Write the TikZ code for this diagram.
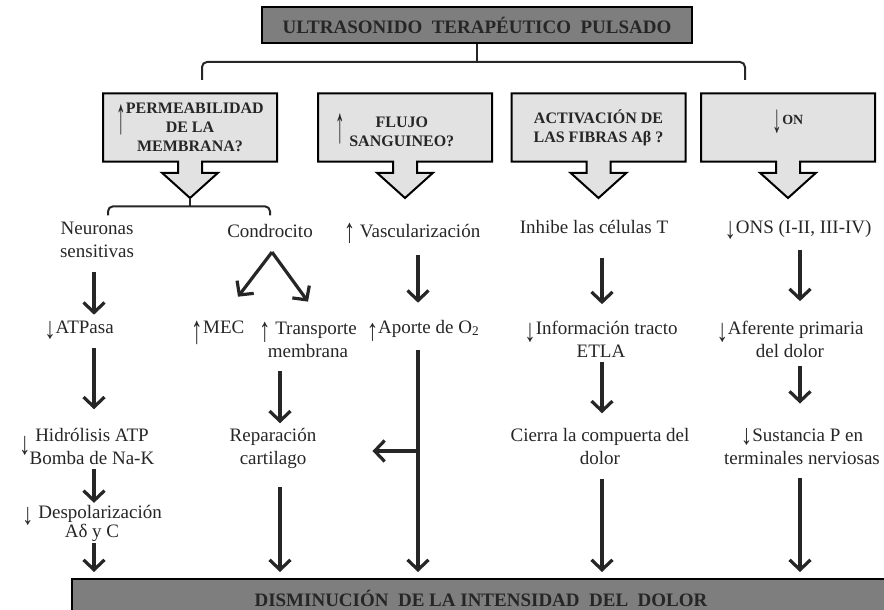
\documentclass[tikz,border=0pt]{standalone}
\usepackage{fontspec}
\setmainfont{Liberation Serif}
\usepackage{xcolor}
\definecolor{boxgray}{RGB}{226,226,226}
\definecolor{bargray}{RGB}{126,126,126}
\definecolor{ink}{RGB}{38,38,38}
\usepackage{tikz}
\usetikzlibrary{shapes.arrows}
\usetikzlibrary{positioning}
\usetikzlibrary{arrows.meta}

% small arrows set inside the texts: [raise]{vertical stretch}
\newcommand{\uparr}[2][0pt]{\raisebox{#1}[0pt][0pt]{\scalebox{1.2}[#2]{\normalfont↑}}}
\newcommand{\dnarr}[2][0pt]{\raisebox{#1}[0pt][0pt]{\scalebox{1.2}[#2]{\normalfont↓}}}

\tikzset{
  txt/.style={align=center,inner sep=0pt,text=ink,font=\fontsize{19}{23}\selectfont,
    execute at begin node=\strut,execute at end node=\strut},
  tight/.style={font=\fontsize{19}{19}\selectfont},
  bar/.style={draw=black,line width=2.5pt,fill=bargray,text=ink,
    font=\bfseries\fontsize{19}{23}\selectfont},
  callout/.style={arrow box,draw=black,line width=2pt,fill=boxgray,text=ink,
    minimum width=174pt,minimum height=68pt,inner sep=2pt,align=center,
    font=\bfseries\fontsize{16}{19}\selectfont,
    arrow box arrows={south:35.5pt},arrow box shaft width=24pt,
    arrow box head extend=16pt,arrow box tip angle=96},
  flow/.style={draw=ink,line width=3.2pt,-{Straight Barb[length=10pt,width=21pt]}},
  brace/.style={draw=ink,line width=2pt,rounded corners=5pt}
}

\begin{document}
\begin{tikzpicture}[x=1pt,y=-1pt]
\useasboundingbox (0,0) rectangle (884,610);
\clip (0,0) rectangle (884,610);

\node[bar,minimum width=430pt,minimum height=36pt] (title) at (477,25) {ULTRASONIDO\ \ TERAPÉUTICO\ \ PULSADO};
\draw[brace] (title.south) -- ++(0,19);
\draw[brace] (202,80) -- (202,62) -- (745,62) -- (745,80);

% the four hypotheses
\node[callout] (perm) at (190,127.5) {\uparr[-20pt]{3.2}PERMEABILIDAD\\DE LA\\MEMBRANA?};
\node[callout] (flujo) at (405,127.5) {\uparr[-15.5pt]{3.2}\ \raisebox{-10pt}[0pt][0pt]{\begin{tabular}{@{}c@{}}FLUJO\\SANGUINEO?\end{tabular}}\hspace*{20pt}};
\node[callout] (activ) at (598.5,127.5) {ACTIVACIÓN DE\\LAS FIBRAS Aβ ?};
\node[callout] (on) at (788,127.5) {\dnarr[-5.5pt]{2.5}\raisebox{2.5pt}[0pt][0pt]{\fontsize{14}{16}\selectfont ON}};
\draw[brace] (perm.south arrow tip) -- ++(0,7);
\draw[brace] ([shift={(-82,16)}]perm.south arrow tip) -- ++(0,-9) -- ++(162,0) -- ++(0,9);

% columns
\coordinate (c1) at (94,0);
\coordinate (c2) at (280,0);
\coordinate (c3) at (418,0);
\coordinate (c4) at (602,0);
\coordinate (c5) at (800,0);

\node[txt] (neur) at (97,243) {Neuronas\\sensitivas};
\node[txt] (condro) at (270,232.4) {Condrocito};
\node[txt] (vasc) at (412,232.4) {\uparr[-5pt]{1.8}\ Vascularización};
\node[txt] (inhibe) at (594,228.4) {Inhibe las células T};
\node[txt] (ons) at (798,228.4) {\dnarr[-5pt]{1.6}ONS (I-II, III-IV)};

\node[txt] (atp) at (79,328.4) {\dnarr[-5pt]{1.6}ATPasa};
\node[txt] (mec) at (218,328.4) {\uparr[-10pt]{2.1}MEC};
\node[txt] (transp) at (308,343) {\uparr[-7pt]{1.8}\ Transporte\\membrana};
\node[txt] (aporte) at (423,328.4) {\uparr[-7pt]{1.6}Aporte de O\textsubscript{2}};
\node[txt] (info) at (601,343) {\dnarr[-7pt]{1.7}Información tracto\\ETLA};
\node[txt] (afer) at (790,343) {\dnarr[-7pt]{1.7}Aferente primaria\\del dolor};

\node[txt] (hidro) at (92,450) {\llap{\dnarr[-13pt]{1.7}\ }Hidrólisis ATP\\Bomba de Na-K};
\node[txt,tight] (despol) at (92,524) {\dnarr[-6pt]{1.6}\ Despolarización\\Aδ y C};
\node[txt] (repar) at (273,450) {Reparación\\cartilago};
\node[txt] (cierra) at (600,450) {Cierra la compuerta del\\dolor};
\node[txt] (sust) at (802,450) {\dnarr[-3pt]{1.5}Sustancia P en\\terminales nerviosas};

\node[bar,line width=2pt,minimum width=818pt,minimum height=38pt] (dism) at (481,598) {DISMINUCIÓN\ \ DE LA INTENSIDAD\ \ DEL\ \ DOLOR};

% arrows
\draw[flow,shorten <=8pt,shorten >=2pt] (neur.south -| c1) -- (atp.north -| c1);
\draw[flow,shorten <=8pt,shorten >=19pt] (atp.south -| c1) -- (hidro.north -| c1);
\draw[flow,shorten <=-3pt,shorten >=2pt] (hidro.south -| c1) -- (despol.north -| c1);
\draw[flow,shorten >=6pt] (despol.south -| c1) -- (dism.north -| c1);

\draw[flow] ([shift={(2,8)}]condro.south) -- ([shift={(20,-20)}]mec.north);
\draw[flow] ([shift={(2,8)}]condro.south) -- ([shift={(0,-20)}]transp.north);
\draw[flow,shorten <=7pt,shorten >=5pt] (transp.south -| c2) -- (repar.north -| c2);
\draw[flow,shorten <=15pt,shorten >=6pt] (repar.south -| c2) -- (dism.north -| c2);

\draw[flow,shorten <=11pt,shorten >=14pt] (vasc.south -| c3) -- (aporte.north -| c3);
\draw[flow,shorten <=10pt,shorten >=6pt] (aporte.south -| c3) -- (dism.north -| c3);
\coordinate (junc) at (418,451);
\draw[flow,shorten >=56pt] (junc) -- (repar.east |- junc);

\draw[flow,shorten <=18pt,shorten >=17pt] (inhibe.south -| c4) -- (info.north -| c4);
\draw[flow,shorten <=-3pt,shorten >=15pt] (info.south -| c4) -- (cierra.north -| c4);
\draw[flow,shorten <=7pt,shorten >=6pt] (cierra.south -| c4) -- (dism.north -| c4);

\draw[flow,shorten <=10pt,shorten >=20pt] (ons.south -| c5) -- (afer.north -| c5);
\draw[flow,shorten <=1pt,shorten >=25pt] (afer.south -| c5) -- (sust.north -| c5);
\draw[flow,shorten <=7pt,shorten >=6pt] (sust.south -| c5) -- (dism.north -| c5);
\end{tikzpicture}
\end{document}
